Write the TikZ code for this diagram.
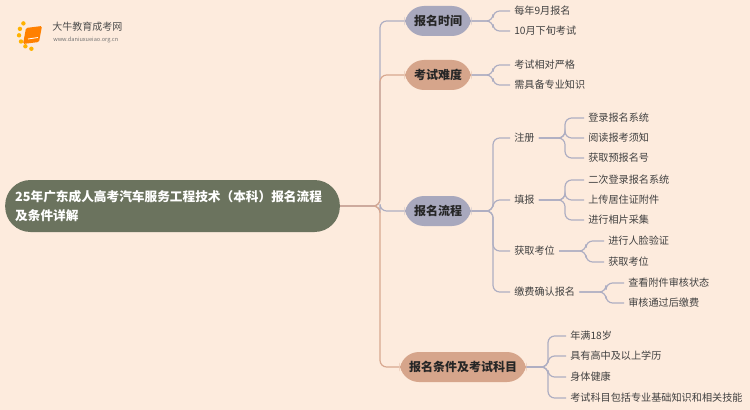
\documentclass[tikz,border=0pt]{standalone}
\usepackage{fontspec}
\setmainfont{Noto Sans CJK SC}
\begin{document}
\begin{tikzpicture}[x=0.75pt,y=-0.75pt,
  l1/.style={rounded corners=14.5, minimum height=22.5pt, inner xsep=7pt, font=\fontsize{9}{11}\selectfont\bfseries, text=black!85},
  gnode/.style={l1, fill=gcol},
  snode/.style={l1, fill=scol},
  leaf/.style={anchor=west, inner xsep=3pt, inner ysep=1pt, font=\fontsize{7.6}{10}\selectfont, text=black!75},
  gl/.style={draw=gline, line width=0.9pt, rounded corners=5},
  sl/.style={draw=sline, line width=0.9pt, rounded corners=5}]
\definecolor{bg}{HTML}{FDEBDD}
\definecolor{gcol}{HTML}{A8A8BD}
\definecolor{scol}{HTML}{D6A58B}
\definecolor{gline}{HTML}{AEAEC2}
\definecolor{sline}{HTML}{D8A890}
\definecolor{rootc}{HTML}{6B735E}
\fill[bg] (0,0) rectangle (750,410);
\useasboundingbox (0,0) rectangle (750,410);
% logo
\foreach \a in {100,125,150,175,200,225} \fill[orange!60!yellow] (34,34)++(\a:15) circle (2.2);
\fill[orange, rounded corners=1] (26,28) -- (42,26) -- (39,42) -- (23,44) -- cycle;
\draw[white, line width=0.6pt] (28,39) -- (38,37.5);
\node[anchor=west, inner sep=0, font=\fontsize{7.5}{9}\selectfont, text=black!70] (lt) at (52,27) {大牛教育成考网};
\node[anchor=west, inner sep=0, font=\fontsize{4.2}{5}\selectfont, text=black!55] (lu) at (53,40) {www.daniuxueiao.org.cn};
% root
\node[fill=rootc, rounded corners=19, minimum width=251pt, minimum height=39pt, align=left, text=white, font=\fontsize{9.5}{14}\selectfont\bfseries, text width=236pt] (root) at (172.5,206) {25年广东成人高考汽车服务工程技术（本科）报名流程\\及条件详解};
% level 1
\node[gnode] (a) at (438,21) {报名时间};
\node[snode] (b) at (438,75) {考试难度};
\node[gnode] (c) at (438,211) {报名流程};
\node[snode] (d) at (463,367) {报名条件及考试科目};
\draw[gl] (root.east) -- (380,206) |- (a.west);
\draw[sl] (root.east) -- (380,206) |- (b.west);
\draw[gl] (root.east) -- (380,206) |- (c.west);
\draw[sl] (root.east) -- (380,206) |- (d.west);
% leaves a
\node[leaf] (a1) at (510,11) {每年9月报名};
\node[leaf] (a2) at (510,31) {10月下旬考试};
\foreach \n in {a1,a2} \draw[gl] (a.east) -- (493,21) |- (\n.west);
\node[leaf] (b1) at (510,65) {考试相对严格};
\node[leaf] (b2) at (510,85) {需具备专业知识};
\foreach \n in {b1,b2} \draw[gl] (b.east) -- (493,75) |- (\n.west);
% c children
\node[leaf] (c1) at (510,138) {注册};
\node[leaf] (c2) at (510,200) {填报};
\node[leaf] (c3) at (510,251) {获取考位};
\node[leaf] (c4) at (510,292) {缴费确认报名};
\foreach \n in {c1,c2,c3,c4} \draw[gl] (c.east) -- (493,211) |- (\n.west);
\node[leaf] (c11) at (584,118) {登录报名系统};
\node[leaf] (c12) at (584,138) {阅读报考须知};
\node[leaf] (c13) at (584,158) {获取预报名号};
\foreach \n in {c11,c12,c13} \draw[gl] (c1.east) -- (565,138) |- (\n.west);
\node[leaf] (c21) at (584,180) {二次登录报名系统};
\node[leaf] (c22) at (584,200) {上传居住证附件};
\node[leaf] (c23) at (584,220) {进行相片采集};
\foreach \n in {c21,c22,c23} \draw[gl] (c2.east) -- (565,200) |- (\n.west);
\node[leaf] (c31) at (604,241) {进行人脸验证};
\node[leaf] (c32) at (604,262) {获取考位};
\foreach \n in {c31,c32} \draw[gl] (c3.east) -- (586,251) |- (\n.west);
\node[leaf] (c41) at (624,283) {查看附件审核状态};
\node[leaf] (c42) at (624,303) {审核通过后缴费};
\foreach \n in {c41,c42} \draw[gl] (c4.east) -- (606,292) |- (\n.west);
% d leaves
\node[leaf] (d1) at (566,336) {年满18岁};
\node[leaf] (d2) at (566,356) {具有高中及以上学历};
\node[leaf] (d3) at (566,377) {身体健康};
\node[leaf] (d4) at (566,398) {考试科目包括专业基础知识和相关技能};
\foreach \n in {d1,d2,d3,d4} \draw[gl] (d.east) -- (548,367) |- (\n.west);
\end{tikzpicture}
\end{document}
